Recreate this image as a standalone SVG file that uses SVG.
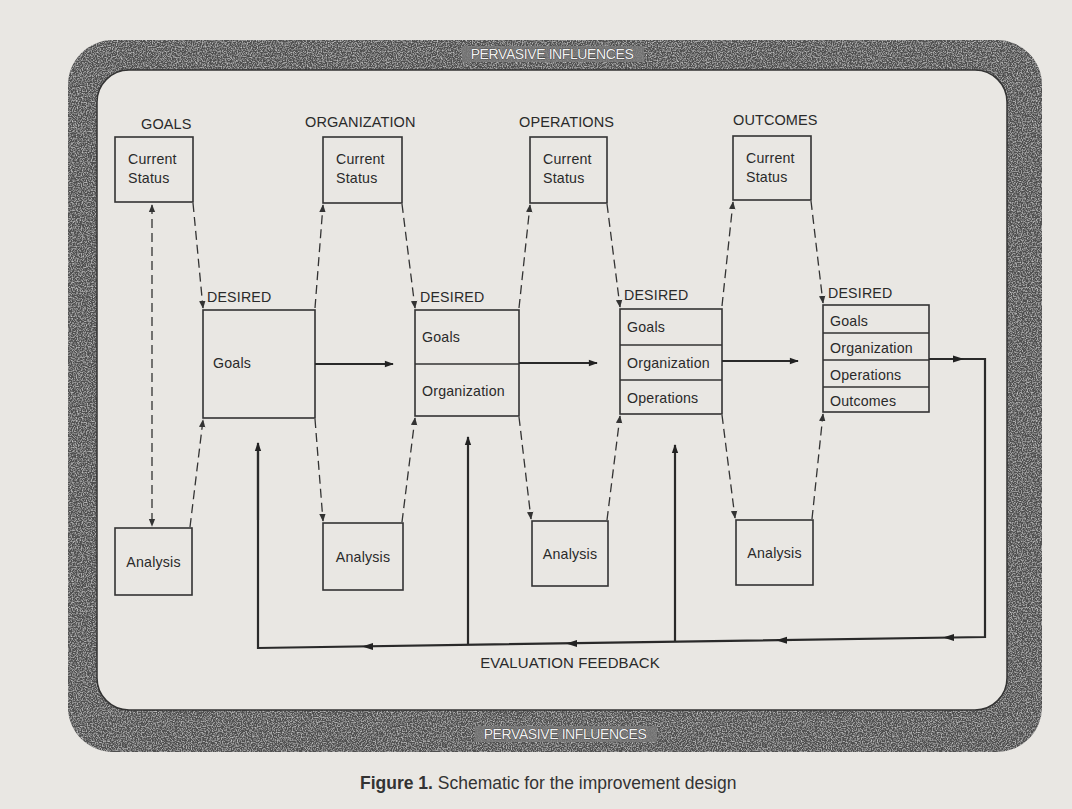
<svg xmlns="http://www.w3.org/2000/svg" xmlns:xlink="http://www.w3.org/1999/xlink" width="1072" height="809" viewBox="0 0 1072 809">
<style>
  text{font-family:"Liberation Sans",Arial,sans-serif;fill:#2a2a2a}
  .hdr{font-size:14.5px;letter-spacing:0.1px}
  .lbl{font-size:14.2px;letter-spacing:0.2px}
  .box{fill:none;stroke:#333;stroke-width:1.6}
  .div{stroke:#333;stroke-width:1.4}
  .dash{fill:none;stroke:#333;stroke-width:1.3;stroke-dasharray:9 5}
  .solid{fill:none;stroke:#2a2a2a;stroke-width:2.2}
  .band-t{font-size:14px;fill:#f2f2f2;stroke:#2a2a2a;stroke-width:0.7;paint-order:stroke;letter-spacing:-0.4px}
</style>
<defs>
  <marker id="da" viewBox="0 0 10 10" refX="9" refY="5" markerWidth="8" markerHeight="8" markerUnits="userSpaceOnUse" orient="auto-start-reverse">
    <path d="M0,1 L10,5 L0,9 Z" fill="#333"/>
  </marker>
  <marker id="sa" viewBox="0 0 10 10" refX="9" refY="5" markerWidth="11" markerHeight="9" markerUnits="userSpaceOnUse" orient="auto">
    <path d="M0,1.5 L10,5 L0,8.5 Z" fill="#222"/>
  </marker>
  <path id="ahL" d="M0,0 L11,-3.5 L11,3.5 Z" fill="#222"/>
  <filter id="grain" x="0" y="0" width="100%" height="100%">
    <feTurbulence type="fractalNoise" baseFrequency="0.8" numOctaves="2" seed="3" result="n"/>
    <feColorMatrix in="n" type="matrix" values="0 0 0 0 0.85  0 0 0 0 0.85  0 0 0 0 0.85  0 0 0 1.4 -0.6" result="spots"/>
    <feComposite in="spots" in2="SourceGraphic" operator="in" result="s2"/>
    <feMerge><feMergeNode in="SourceGraphic"/><feMergeNode in="s2"/></feMerge>
  </filter>
</defs>

<rect x="0" y="0" width="1072" height="809" fill="#e9e7e3"/>

<g id="frame">
  <path fill="#4f4f4f" fill-rule="evenodd" filter="url(#grain)" d="M113,40 H997 A45,45 0 0 1 1042,85 V707 A45,45 0 0 1 997,752 H113 A45,45 0 0 1 68,707 V85 A45,45 0 0 1 113,40 Z M129,70 H975 A32,32 0 0 1 1007,102 V678 A32,32 0 0 1 975,710 H129 A32,32 0 0 1 97,678 V102 A32,32 0 0 1 129,70 Z"/>
  <path fill="none" stroke="#333" stroke-width="1.5" d="M129,70 H975 A32,32 0 0 1 1007,102 V678 A32,32 0 0 1 975,710 H129 A32,32 0 0 1 97,678 V102 A32,32 0 0 1 129,70 Z"/>
  <rect x="462" y="46" width="182" height="16" fill="#7a7a7a" opacity="0.8"/>
  <rect x="475" y="726" width="182" height="16" fill="#7a7a7a" opacity="0.8"/>
  <text class="band-t" x="552" y="59" text-anchor="middle">PERVASIVE INFLUENCES</text>
  <text class="band-t" x="565" y="739" text-anchor="middle">PERVASIVE INFLUENCES</text>
</g>

<g id="headers">
  <text class="hdr" x="141" y="129">GOALS</text>
  <text class="hdr" x="305" y="127">ORGANIZATION</text>
  <text class="hdr" x="519" y="127">OPERATIONS</text>
  <text class="hdr" x="733" y="125">OUTCOMES</text>
</g>

<!-- Column 1 -->
<g id="cs1"><rect class="box" x="115" y="137" width="78" height="65"/><text class="lbl" x="128" y="164">Current</text><text class="lbl" x="128" y="183">Status</text></g>
<g id="an1"><rect class="box" x="115" y="528" width="77" height="67"/><text class="lbl" x="153.5" y="567" text-anchor="middle">Analysis</text></g>
<g id="des1"><text class="lbl" x="207" y="302">DESIRED</text><rect class="box" x="203" y="310" width="112" height="108"/><text class="lbl" x="213" y="368">Goals</text></g>

<!-- Column 2 -->
<g id="cs2"><rect class="box" x="323" y="137" width="79" height="66"/><text class="lbl" x="336" y="164">Current</text><text class="lbl" x="336" y="183">Status</text></g>
<g id="an2"><rect class="box" x="323" y="523" width="80" height="67"/><text class="lbl" x="363" y="562" text-anchor="middle">Analysis</text></g>
<g id="des2"><text class="lbl" x="420" y="302">DESIRED</text><rect class="box" x="415" y="310" width="104" height="106"/><line class="div" x1="415" y1="364" x2="519" y2="364"/><text class="lbl" x="422" y="342">Goals</text><text class="lbl" x="422" y="396">Organization</text></g>

<!-- Column 3 -->
<g id="cs3"><rect class="box" x="530" y="137" width="77" height="66"/><text class="lbl" x="543" y="164">Current</text><text class="lbl" x="543" y="183">Status</text></g>
<g id="an3"><rect class="box" x="532" y="521" width="76" height="65"/><text class="lbl" x="570" y="559" text-anchor="middle">Analysis</text></g>
<g id="des3"><text class="lbl" x="624" y="300">DESIRED</text><rect class="box" x="620" y="309" width="102" height="105"/><line class="div" x1="620" y1="345" x2="722" y2="345"/><line class="div" x1="620" y1="380" x2="722" y2="380"/><text class="lbl" x="627" y="332">Goals</text><text class="lbl" x="627" y="368">Organization</text><text class="lbl" x="627" y="403">Operations</text></g>

<!-- Column 4 -->
<g id="cs4"><rect class="box" x="733" y="136" width="78" height="64"/><text class="lbl" x="746" y="163">Current</text><text class="lbl" x="746" y="182">Status</text></g>
<g id="an4"><rect class="box" x="736" y="520" width="77" height="65"/><text class="lbl" x="774.5" y="558" text-anchor="middle">Analysis</text></g>
<g id="des4"><text class="lbl" x="828" y="298">DESIRED</text><rect class="box" x="823" y="305" width="106" height="107"/><line class="div" x1="823" y1="333" x2="929" y2="333"/><line class="div" x1="823" y1="360" x2="929" y2="360"/><line class="div" x1="823" y1="387" x2="929" y2="387"/><text class="lbl" x="830" y="326">Goals</text><text class="lbl" x="830" y="353">Organization</text><text class="lbl" x="830" y="380">Operations</text><text class="lbl" x="830" y="406">Outcomes</text></g>

<g id="connectors">
  <!-- column 1 -->
  <line class="dash" x1="152" y1="205" x2="152" y2="526" marker-start="url(#da)" marker-end="url(#da)"/>
  <line class="dash" x1="193" y1="203" x2="203" y2="308" marker-end="url(#da)"/>
  <line class="dash" x1="190" y1="527" x2="203" y2="420" marker-end="url(#da)"/>
  <!-- column 2 -->
  <line class="dash" x1="315" y1="308" x2="323" y2="205" marker-end="url(#da)"/>
  <line class="dash" x1="402" y1="204" x2="415" y2="308" marker-end="url(#da)"/>
  <line class="dash" x1="315" y1="419" x2="323" y2="521" marker-end="url(#da)"/>
  <line class="dash" x1="402" y1="522" x2="415" y2="418" marker-end="url(#da)"/>
  <!-- column 3 -->
  <line class="dash" x1="519" y1="308" x2="530" y2="205" marker-end="url(#da)"/>
  <line class="dash" x1="607" y1="204" x2="620" y2="307" marker-end="url(#da)"/>
  <line class="dash" x1="519" y1="417" x2="531" y2="519" marker-end="url(#da)"/>
  <line class="dash" x1="607" y1="520" x2="620" y2="416" marker-end="url(#da)"/>
  <!-- column 4 -->
  <line class="dash" x1="722" y1="306" x2="733" y2="202" marker-end="url(#da)"/>
  <line class="dash" x1="811" y1="201" x2="823" y2="303" marker-end="url(#da)"/>
  <line class="dash" x1="722" y1="415" x2="735" y2="518" marker-end="url(#da)"/>
  <line class="dash" x1="812" y1="519" x2="823" y2="414" marker-end="url(#da)"/>
  <!-- forward solid arrows -->
  <line class="solid" x1="315" y1="364" x2="393" y2="364" marker-end="url(#sa)"/>
  <line class="solid" x1="519" y1="363" x2="597" y2="363" marker-end="url(#sa)"/>
  <line class="solid" x1="722" y1="361" x2="798" y2="361" marker-end="url(#sa)"/>
  <!-- evaluation feedback loop -->
  <path class="solid" d="M929,359 H985 V637 L258,648 V445"/>
  <use xlink:href="#ahL" x="952" y="359" transform="rotate(180 958 359)"/>
  <line class="solid" x1="258" y1="520" x2="258" y2="443" marker-end="url(#sa)"/>
  <line class="solid" x1="468" y1="645" x2="468" y2="437" marker-end="url(#sa)"/>
  <line class="solid" x1="675" y1="642" x2="675" y2="445" marker-end="url(#sa)"/>
  <use xlink:href="#ahL" x="943" y="637.6"/>
  <use xlink:href="#ahL" x="776" y="640.2"/>
  <use xlink:href="#ahL" x="566" y="643.4"/>
  <use xlink:href="#ahL" x="362" y="646.5"/>
</g>

<text class="hdr" x="570" y="668" text-anchor="middle" style="font-size:15px">EVALUATION FEEDBACK</text>
<text x="360" y="789" style="font-size:17.5px;fill:#333"><tspan font-weight="bold">Figure 1.</tspan>  Schematic for the improvement design</text>
</svg>
